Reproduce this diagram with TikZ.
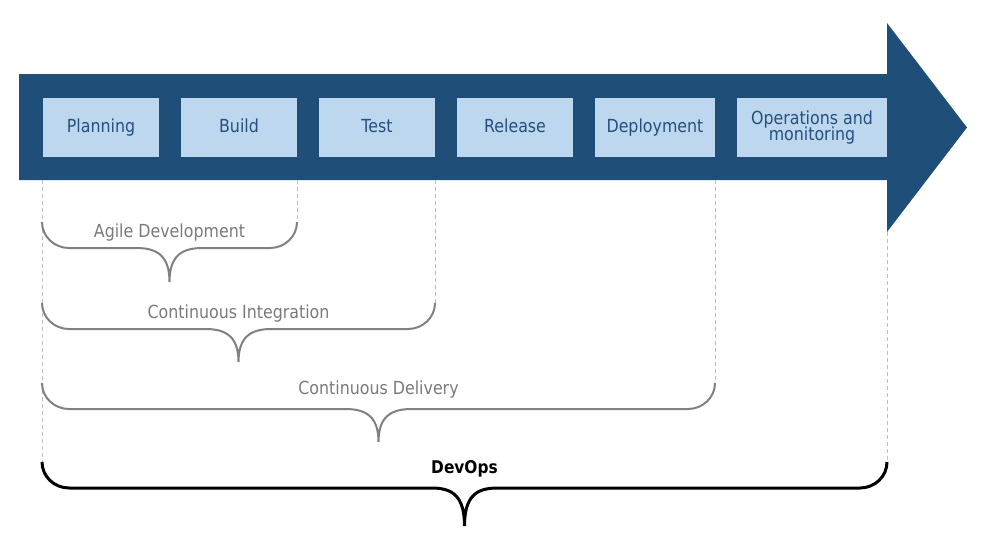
\documentclass[tikz,border=0pt]{standalone}
\usepackage{fontspec}
\setmainfont[FakeStretch=0.88]{DejaVu Sans}
\definecolor{arrowblue}{RGB}{31,78,121}
\definecolor{boxblue}{RGB}{189,215,238}
\definecolor{boxtext}{RGB}{38,79,128}
\definecolor{bracegray}{RGB}{128,128,128}
\definecolor{labelgray}{RGB}{122,122,122}
\definecolor{guidegray}{RGB}{190,190,190}
\newcommand\mybrace[7]{% style, x1, x2, mid, top, line, tip
  \draw[#1] (#2,#5) to[out=-90,in=180] (#2+27,#6) -- (#4-33,#6)
    .. controls (#4-12,#6) and (#4,#6+8) .. (#4,#7)
    .. controls (#4,#6+8) and (#4+12,#6) .. (#4+33,#6)
    -- (#3-27,#6) to[out=0,in=-90] (#3,#5);
}
\begin{document}
\begin{tikzpicture}[x=1pt,y=-1pt,
  stage/.style={fill=boxblue, text=boxtext, inner sep=0pt, minimum height=59pt},
  oneline/.style={stage, font=\fontsize{18}{20}\selectfont, text height=13pt, text depth=4pt},
  twoline/.style={stage, align=center, font={\fontsize{18}{16.5}\selectfont\lineskiplimit=-\maxdimen}},
  guide/.style={draw=guidegray, line width=0.8pt, dash pattern=on 4pt off 3pt},
  brace/.style={draw=bracegray, line width=2pt, line cap=butt},
  bigbrace/.style={draw=black, line width=3pt, line cap=butt},
  span/.style={text=labelgray, font=\fontsize{18}{20}\selectfont, anchor=base, inner sep=0pt},
]
\useasboundingbox (0,0) rectangle (986,536);

% main arrow
\fill[arrowblue] (19,74) -- (887,74) -- (887,23) -- (967,127.5) -- (887,232)
  -- (887,180) -- (19,180) -- cycle;

% stages
\node[oneline, minimum width=116pt] (plan) at (101,127.5) {Planning};
\node[oneline, minimum width=116pt] (build) at (239,127.5) {Build};
\node[oneline, minimum width=116pt] (test) at (377,127.5) {Test};
\node[oneline, minimum width=116pt] (rel) at (515,127.5) {Release};
\node[oneline, minimum width=120pt] (dep) at (655,127.5) {Deployment};
\node[twoline, minimum width=150pt] (ops) at (812,127.5) {Operations and\\monitoring};

% guide coordinates
\coordinate (g0a) at (42,180);   \coordinate (g0b) at (42,462);
\coordinate (g1a) at (297,180);  \coordinate (g1b) at (297,222);
\coordinate (g2a) at (435,180);  \coordinate (g2b) at (435,303);
\coordinate (g3a) at (715,180);  \coordinate (g3b) at (715,383);
\coordinate (g4a) at (887,232);  \coordinate (g4b) at (887,462);
\draw[guide] (g0a) -- (g0b);
\draw[guide] (g1a) -- (g1b);
\draw[guide] (g2a) -- (g2b);
\draw[guide] (g3a) -- (g3b);
\draw[guide] (g4a) -- (g4b);

% braces
\mybrace{brace}{42}{297}{169.5}{222}{248}{282}
\mybrace{brace}{42}{435}{238.5}{303}{329}{362}
\mybrace{brace}{42}{715}{378.5}{383}{409}{442}
\mybrace{bigbrace}{42}{887}{464.5}{462}{488}{526}

% labels
\node[span] (agile) at (169.5,237) {Agile Development};
\node[span] (ci) at (238.5,318) {Continuous Integration};
\node[span] (cd) at (378.5,394) {Continuous Delivery};
\node[span, text=black, font=\fontsize{17.5}{20}\bfseries\selectfont] (devops) at (464.5,473) {DevOps};
\end{tikzpicture}
\end{document}
